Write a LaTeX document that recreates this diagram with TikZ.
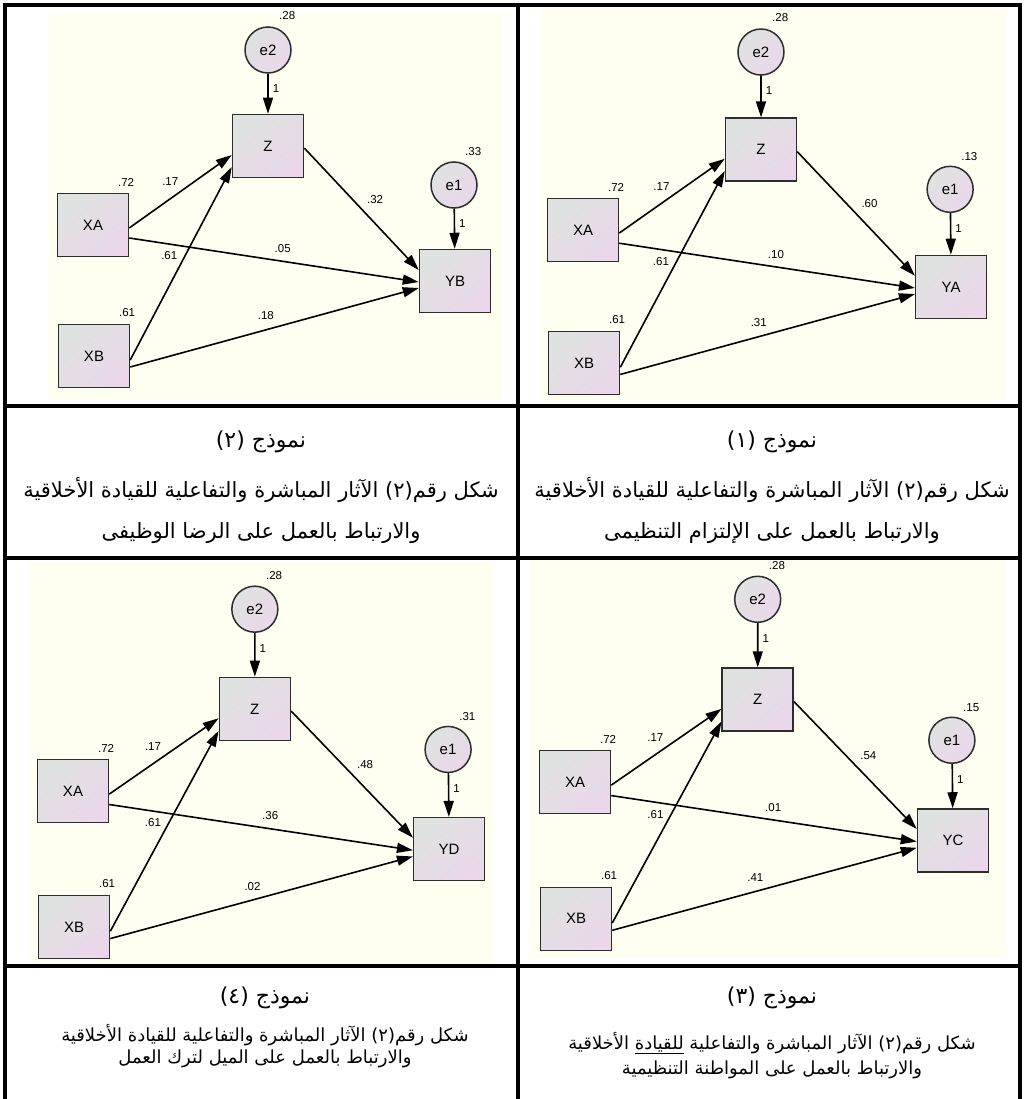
\documentclass[tikz,border=0pt]{standalone}
\usepackage{fontspec}
\setmainfont{Liberation Sans}
\newfontfamily\arabicfont[Script=Arabic]{DejaVu Sans}
\TeXXeTstate=1
\usetikzlibrary{arrows.meta,shadings}

\definecolor{ivory}{RGB}{254,255,240}
\definecolor{boxA}{RGB}{221,228,222}
\definecolor{boxM}{RGB}{229,221,229}
\definecolor{boxB}{RGB}{236,213,236}
\definecolor{boxline}{RGB}{45,45,45}

\begin{document}
\begin{tikzpicture}[x=1pt,y=-1pt,
    obs/.style={draw=boxline, line width=1.5pt, minimum width=71pt, minimum height=63pt,
      inner sep=0pt, upper left=boxA, upper right=boxM, lower left=boxM, lower right=boxB,
      font=\fontsize{15}{15}\selectfont},
    err/.style={circle, draw=boxline, line width=1.5pt, minimum size=46pt, inner sep=0pt,
      upper left=boxA, upper right=boxM, lower left=boxM, lower right=boxB,
      font=\fontsize{15}{15}\selectfont},
    effect/.style={line width=1.6pt, -{Triangle[length=16pt,width=10pt]}},
    lbl/.style={inner sep=0pt, font=\fontsize{11.5}{11.5}\selectfont},
    captitle/.style={inner sep=0pt, font=\arabicfont\fontsize{22}{22}\selectfont},
    captext/.style={inner sep=0pt, font=\arabicfont\fontsize{21}{21}\selectfont},
    captextsmall/.style={inner sep=0pt, font=\arabicfont\fontsize{18}{18}\selectfont},
    tbl/.style={line width=4pt}]

  \useasboundingbox (0,0) rectangle (1024,1099);

  % backgrounds of the four outputs
  \fill[ivory] (49,12) rectangle (503,400);
  \fill[ivory] (540,7) rectangle (1007,401);
  \fill[ivory] (30,562) rectangle (493,962);
  \fill[ivory] (530,560) rectangle (1007,958);

  % table rules
  \foreach \y in {5,406,558,966} {
    \draw[tbl] (3,\y) -- (1022,\y);
  }
  \foreach \x in {5,518,1020} {
    \draw[tbl] (\x,3) -- (\x,1099);
  }

  % path models
  \foreach \pfx/\dx/\dy/\s/\yname/\zy/\ay/\by/\ve in
    {tl/93/225/1/YB/.32/.05/.18/.33,
     tr/583/230/1.017/YA/.60/.10/.31/.13,
     bl/73/791/1.039/YD/.48/.36/.02/.31,
     br/575/782/1.044/YC/.54/.01/.41/.15} {
    \begin{scope}[shift={(\dx,\dy)}, scale=\s, name prefix=\pfx-]
      \node[obs] (XA) at (0,0) {XA};
      \node[obs] (XB) at (1,131) {XB};
      \node[obs] (Z) at (175,-79) {Z};
      \node[obs] (Y) at (362,56) {\yname};
      \node[err] (e2) at (175,-175) {e2};
      \node[err] (e1) at (361,-40) {e1};

      \node[lbl, anchor=south east, xshift=5pt, yshift=6pt] (vXA) at (XA.north east) {.72};
      \node[lbl, anchor=south east, xshift=5pt, yshift=7pt] (vXB) at (XB.north east) {.61};
      \node[lbl, anchor=south west, xshift=11pt, yshift=6pt] (ve2) at (e2.north) {.28};
      \node[lbl, anchor=south west, xshift=11pt, yshift=5pt] (ve1) at (e1.north) {\ve};

      \draw[effect] (e2) -- node[lbl, pos=.36, right=4pt] {1} (Z);
      \draw[effect] (e1) -- node[lbl, pos=.36, right=4pt] {1} (Y);
      \draw[effect] ([yshift=-3pt]XA.east) -- node[lbl, pos=.4, above=12pt] {.17} ([yshift=-9pt]Z.west);
      \draw[effect] ([yshift=-4pt]XB.east) -- node[lbl, pos=.54, left=7pt] {.61} ([yshift=-21pt]Z.west);
      \draw[effect] ([yshift=-2pt]Z.east) -- node[lbl, pos=.42, right=14pt] {\zy} ([yshift=11pt]Y.west);
      \draw[effect] ([yshift=-13pt]XA.east) -- node[lbl, pos=.53, above=8pt] {\ay} ([yshift=-1pt]Y.west);
      \draw[effect] ([yshift=-11pt]XB.east) -- node[lbl, pos=.47, above=9pt] {\by} ([yshift=-7pt]Y.west);
    \end{scope}
  }

  % captions, upper row
  \node[captitle] (tlT) at (261,442) {\beginR نموذج (٢)\endR};
  \node[captext] (tlA) at (261,490) {\beginR شكل رقم(٢) الآثار المباشرة والتفاعلية للقيادة الأخلاقية\endR};
  \node[captext] (tlB) at (261,533) {\beginR والارتباط بالعمل على الرضا الوظيفى\endR};
  \node[captitle] (trT) at (772,442) {\beginR نموذج (١)\endR};
  \node[captext] (trA) at (772,490) {\beginR شكل رقم(٢) الآثار المباشرة والتفاعلية للقيادة الأخلاقية\endR};
  \node[captext] (trB) at (772,533) {\beginR والارتباط بالعمل على الإلتزام التنظيمى\endR};

  % captions, lower row
  \node[captitle] (blT) at (265,998) {\beginR نموذج (٤)\endR};
  \node[captextsmall] (blA) at (265,1035) {\beginR شكل رقم(٢) الآثار المباشرة والتفاعلية للقيادة الأخلاقية\endR};
  \node[captextsmall] (blB) at (265,1059) {\beginR والارتباط بالعمل على الميل لترك العمل\endR};
  \node[captitle] (brT) at (772,998) {\beginR نموذج (٣)\endR};
  \node[captextsmall] (brA) at (772,1043) {\beginR شكل رقم(٢) الآثار المباشرة والتفاعلية \underline{للقيادة} الأخلاقية\endR};
  \node[captextsmall] (brB) at (772,1070) {\beginR والارتباط بالعمل على المواطنة التنظيمية\endR};

\end{tikzpicture}
\end{document}
